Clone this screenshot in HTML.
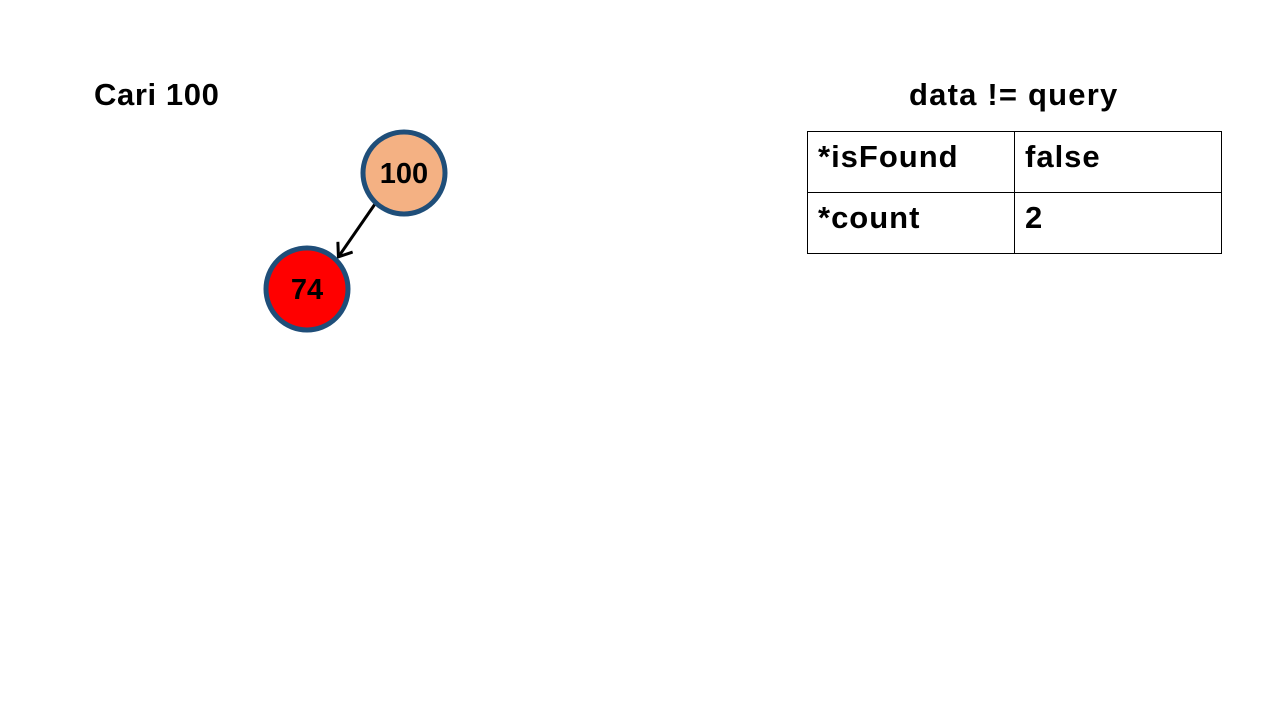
<!DOCTYPE html>
<html>
<head>
<meta charset="utf-8">
<style>
  html, body { margin: 0; padding: 0; background: #fff; }
  body { width: 1280px; height: 720px; position: relative; overflow: hidden; font-family: "Liberation Sans", "DejaVu Sans", sans-serif; font-weight: bold; color: #000; }
  .t { position: absolute; white-space: nowrap; }
  table { position: absolute; left: 807px; top: 131px; border-collapse: collapse; table-layout: fixed; }
  td { border: 1px solid #000; width: 207px; height: 61px; padding: 0 0 0 10px; font-size: 31px; vertical-align: top; line-height: 50px; letter-spacing: 1px; box-sizing: border-box; }
</style>
</head>
<body>
<div class="t" style="left:94px; top:77px; font-size:31px; letter-spacing:0.6px;">Cari 100</div>
<div class="t" style="left:909px; top:77px; font-size:31px; letter-spacing:1.2px;">data != query</div>

<svg width="1280" height="720" style="position:absolute;left:0;top:0">
  <defs>
    <marker id="ah" markerWidth="16" markerHeight="20" refX="12" refY="10" orient="auto" markerUnits="userSpaceOnUse">
      <path d="M1,1 L13,10 L1,19" fill="none" stroke="#000" stroke-width="3"/>
    </marker>
  </defs>
  <line x1="375" y1="204" x2="339" y2="256" stroke="#000" stroke-width="3" marker-end="url(#ah)"/>
  <g>
    <circle cx="404" cy="173" r="41" fill="#f4b183" stroke="#1f4e79" stroke-width="5"/>
    <text x="404" y="183" text-anchor="middle" font-size="29" font-weight="bold" font-family="Liberation Sans, sans-serif">100</text>
  </g>
  <g>
    <circle cx="307" cy="289" r="41" fill="#ff0000" stroke="#1f4e79" stroke-width="5"/>
    <text x="307" y="299" text-anchor="middle" font-size="29" font-weight="bold" font-family="Liberation Sans, sans-serif">74</text>
  </g>
</svg>

<table>
  <tr><td>*isFound</td><td>false</td></tr>
  <tr><td>*count</td><td>2</td></tr>
</table>
</body>
</html>
